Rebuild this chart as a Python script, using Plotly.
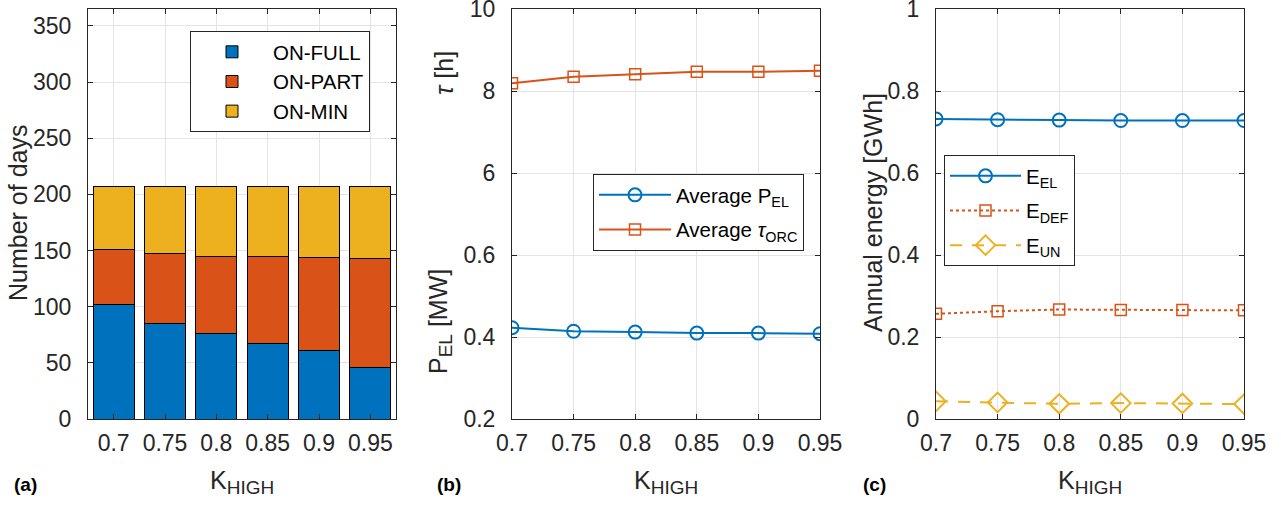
import plotly.graph_objects as go

# ---------------- data ----------------
k_labels = ["0.7", "0.75", "0.8", "0.85", "0.9", "0.95"]
k_values = [0.7, 0.75, 0.8, 0.85, 0.9, 0.95]

on_full = [102, 85, 76, 67, 61, 46]
on_part = [49, 62, 69, 78, 83, 97]
on_min = [56, 60, 62, 62, 63, 64]

avg_p_el = [0.4226, 0.414, 0.412, 0.4095, 0.4095, 0.408]
avg_tau_orc = [8.19, 8.35, 8.41, 8.47, 8.47, 8.495]

e_el = [0.732, 0.730, 0.729, 0.728, 0.728, 0.728]
e_def = [0.2565, 0.263, 0.267, 0.266, 0.266, 0.265]
e_un = [0.043, 0.0405, 0.037, 0.0388, 0.038, 0.0364]

# ---------------- style ----------------
W, H = 1281, 506
BLUE, ORANGE, YELLOW = "#0072BD", "#D95319", "#EDB120"
TXT = "#262626"
GRID = "#e4e4e4"
FONT = "Liberation Sans, Arial, sans-serif"
TICKF = dict(family=FONT, size=23, color=TXT)
LEGF = dict(family=FONT, size=20.5, color="#000000")


def px(x):
    return x / W


def py(y):
    return 1 - y / H


ydom = [py(419), py(9)]
doms = {"a": [px(88), px(396)], "b": [px(512), px(820)], "c": [px(936), px(1244)]}

fig = go.Figure()

# panel (a) stacked bars
for name, vals, col in [("ON-FULL", on_full, BLUE), ("ON-PART", on_part, ORANGE), ("ON-MIN", on_min, YELLOW)]:
    fig.add_trace(go.Bar(x=k_labels, y=vals, name=name, marker=dict(color=col, line=dict(color="#000000", width=1)),
                         xaxis="x", yaxis="y", legend="legend"))

# panel (b)
fig.add_trace(go.Scatter(x=k_values, y=avg_p_el, name="Average P<sub>EL</sub>", mode="lines+markers",
                         line=dict(color=BLUE, width=2), legendgroup="b1",
                         marker=dict(symbol="circle-open", size=13, color=BLUE, line=dict(width=2)),
                         xaxis="x2", yaxis="y2", legend="legend2"))
fig.add_trace(go.Scatter(x=k_values, y=avg_tau_orc, name="Average <i>τ</i><sub>ORC</sub>", mode="lines+markers",
                         line=dict(color=ORANGE, width=2), legendgroup="b2",
                         marker=dict(symbol="square-open", size=11, color=ORANGE, line=dict(width=1.5)),
                         xaxis="x2", yaxis="y3", legend="legend2"))

# panel (c)
fig.add_trace(go.Scatter(x=k_values, y=e_el, name="E<sub>EL</sub>", mode="lines+markers",
                         line=dict(color=BLUE, width=2), legendgroup="c1",
                         marker=dict(symbol="circle-open", size=13, color=BLUE, line=dict(width=2)),
                         xaxis="x3", yaxis="y4", legend="legend3"))
fig.add_trace(go.Scatter(x=k_values, y=e_def, name="E<sub>DEF</sub>", mode="lines+markers",
                         line=dict(color=ORANGE, width=2, dash="dot"), legendgroup="c2",
                         marker=dict(symbol="square-open", size=11, color=ORANGE, line=dict(width=1.5)),
                         xaxis="x3", yaxis="y4", legend="legend3"))
fig.add_trace(go.Scatter(x=k_values, y=e_un, name="E<sub>UN</sub>", mode="lines+markers",
                         line=dict(color=YELLOW, width=2, dash="12px,10px"), legendgroup="c3",
                         marker=dict(symbol="diamond-open", size=15, color=YELLOW, line=dict(width=2)),
                         xaxis="x3", yaxis="y4", legend="legend3"))

axcommon = dict(showline=True, linecolor=TXT, linewidth=1, mirror="ticks", ticks="inside", ticklen=5,
                tickcolor=TXT, showgrid=True, gridcolor=GRID, gridwidth=1, zeroline=False,
                tickfont=TICKF, automargin=False, ticklabeloverflow="allow")
xax = dict(ticklabelstandoff=3, **axcommon)
yax = dict(ticklabelstandoff=11, **axcommon)

fig.update_layout(
    width=W, height=H, margin=dict(l=0, r=0, t=0, b=0, autoexpand=False),
    paper_bgcolor="white", plot_bgcolor="white",
    font=dict(family=FONT, color=TXT),
    barmode="stack", bargap=0.2,
    xaxis=dict(domain=doms["a"], anchor="y", type="category", range=[-0.5, 5.5], **xax),
    yaxis=dict(domain=ydom, anchor="x", range=[0, 365], tickvals=[0, 50, 100, 150, 200, 250, 300, 350], **yax),
    xaxis2=dict(domain=doms["b"], anchor="y2", range=[0.7, 0.95], tickvals=k_values, ticktext=k_labels, **xax),
    yaxis2=dict(domain=ydom, anchor="x2", range=[0.2, 1.2], tickvals=[0.2, 0.4, 0.6], ticktext=["0.2", "0.4", "0.6"], **yax),
    yaxis3=dict(domain=ydom, anchor="x2", overlaying="y2", side="left", range=[0, 10], tickvals=[6, 8, 10], **yax),
    xaxis3=dict(domain=doms["c"], anchor="y4", range=[0.7, 0.95], tickvals=k_values, ticktext=k_labels, **xax),
    yaxis4=dict(domain=ydom, anchor="x3", range=[0, 1], tickvals=[0, 0.2, 0.4, 0.6, 0.8, 1],
                ticktext=["0", "0.2", "0.4", "0.6", "0.8", "1"], **yax),
    legend=dict(x=px(190), y=py(31), xanchor="left", yanchor="top", bgcolor="white", bordercolor=TXT, borderwidth=1,
                font=LEGF, traceorder="normal", itemwidth=72),
    legend2=dict(x=px(593), y=py(174), xanchor="left", yanchor="top", bgcolor="white", bordercolor=TXT, borderwidth=1,
                 font=LEGF, itemwidth=72, traceorder="grouped", tracegroupgap=5),
    legend3=dict(x=px(944), y=py(155), xanchor="left", yanchor="top", bgcolor="white", bordercolor=TXT, borderwidth=1,
                 font=LEGF, itemwidth=71, traceorder="grouped", tracegroupgap=5),
    showlegend=True,
)

ann = []
def add_ann(text, x, y, size=25, angle=0, bold=False):
    ann.append(dict(text=f"<b>{text}</b>" if bold else text, x=px(x), y=py(y), xref="paper", yref="paper",
                    showarrow=False, xanchor="center", yanchor="middle", textangle=angle,
                    font=dict(family=FONT, size=size, color=TXT if not bold else "#000000")))

for cx in [242, 666, 1090]:
    add_ann('K<sub><span style="font-size:19px">HIGH</span></sub>', cx, 482, size=25)
add_ann("Number of days", 18, 213, angle=-90)
add_ann("Annual energy [GWh]", 873, 213, angle=-90)
add_ann("<i>τ</i> [h]", 444, 73, angle=-90)
add_ann('P<sub><span style="font-size:19px">EL</span></sub> [MW]', 440, 322, angle=-90)
add_ann("(a)", 25, 484, size=19, bold=True)
add_ann("(b)", 449, 484, size=19, bold=True)
add_ann("(c)", 874, 484, size=19, bold=True)
fig.update_layout(annotations=ann)

fig.write_html("out.html")
